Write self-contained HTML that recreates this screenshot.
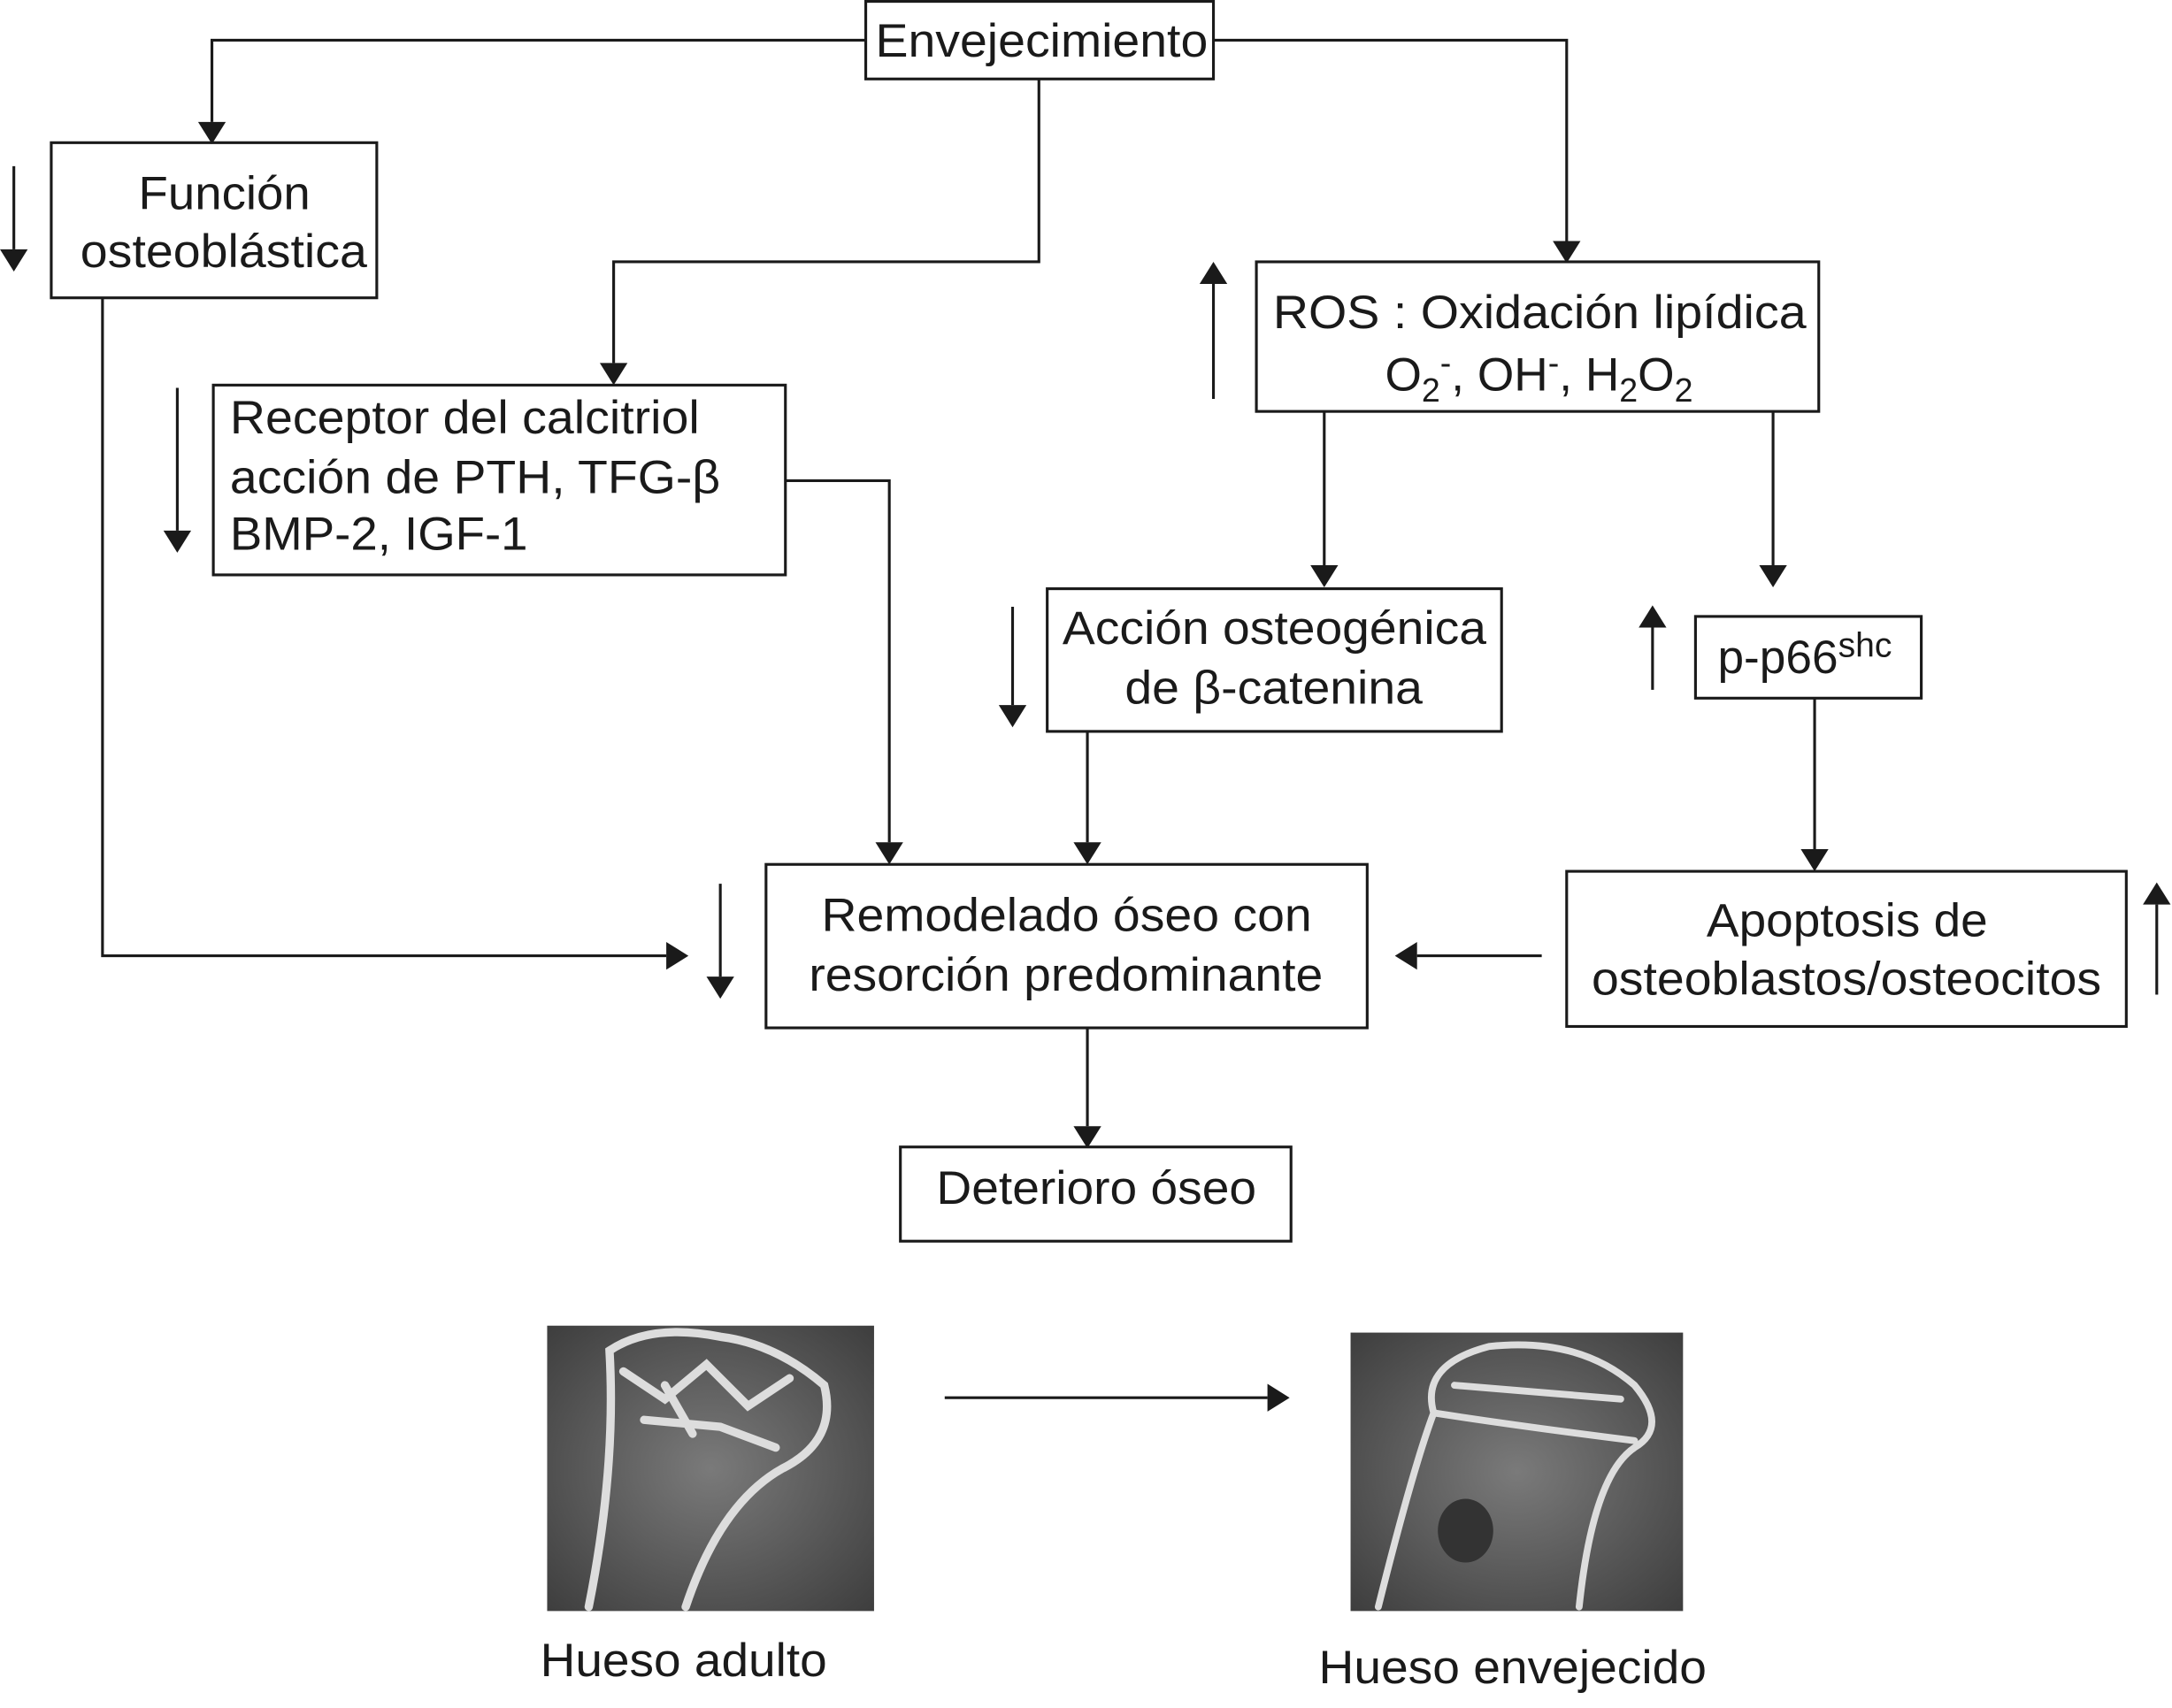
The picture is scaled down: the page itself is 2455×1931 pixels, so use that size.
<!DOCTYPE html>
<html><head><meta charset="utf-8"><style>
html,body{margin:0;padding:0;background:#fff;}
svg{display:block;}
text{font-family:"Liberation Sans",sans-serif;font-size:34px;fill:#1a1a1a;}
</style></head><body>
<svg width="2455" height="1931" viewBox="0 0 1568 1233" preserveAspectRatio="none" xmlns="http://www.w3.org/2000/svg">
<defs>
<radialGradient id="g1" cx="50%" cy="50%" r="70%"><stop offset="0" stop-color="#7a7a7a"/><stop offset="1" stop-color="#3e3e3e"/></radialGradient>
</defs>
<g fill="none" stroke="#1a1a1a" stroke-width="2">
<rect x="625" y="1" width="251" height="56"/>
<rect x="37" y="103" width="235" height="112"/>
<rect x="154" y="278" width="413" height="137"/>
<rect x="907" y="189" width="406" height="108"/>
<rect x="756" y="425" width="328" height="103"/>
<rect x="1224" y="445" width="163" height="59"/>
<rect x="553" y="624" width="434" height="118"/>
<rect x="1131" y="629" width="404" height="112"/>
<rect x="650" y="828" width="282" height="68"/>
<polyline points="625,29 153,29 153,88"/>
<polyline points="876,29 1131,29 1131,174"/>
<polyline points="750,57 750,189 443,189 443,262"/>
<polyline points="567,347 642,347 642,608"/>
<polyline points="74,215 74,690 481,690"/>
<line x1="956" y1="297" x2="956" y2="408"/>
<line x1="1280" y1="297" x2="1280" y2="408"/>
<line x1="785" y1="528" x2="785" y2="608"/>
<line x1="1310" y1="504" x2="1310" y2="613"/>
<line x1="1113" y1="690" x2="1023" y2="690"/>
<line x1="785" y1="742" x2="785" y2="813"/>
<line x1="682" y1="1009" x2="915" y2="1009"/>
<line x1="10" y1="120" x2="10" y2="180"/>
<line x1="128" y1="280" x2="128" y2="383"/>
<line x1="876" y1="288" x2="876" y2="205"/>
<line x1="731" y1="438" x2="731" y2="509"/>
<line x1="1193" y1="498" x2="1193" y2="453"/>
<line x1="520" y1="638" x2="520" y2="705"/>
<line x1="1557" y1="718" x2="1557" y2="653"/>
</g>
<g fill="#1a1a1a">
<polygon points="143,88 163,88 153,104"/>
<polygon points="1121,174 1141,174 1131,190"/>
<polygon points="433,262 453,262 443,278"/>
<polygon points="632,608 652,608 642,624"/>
<polygon points="481,680 481,700 497,690"/>
<polygon points="946,408 966,408 956,424"/>
<polygon points="1270,408 1290,408 1280,424"/>
<polygon points="775,608 795,608 785,624"/>
<polygon points="1300,613 1320,613 1310,629"/>
<polygon points="1023,680 1023,700 1007,690"/>
<polygon points="775,813 795,813 785,829"/>
<polygon points="915,999 915,1019 931,1009"/>
<polygon points="0,180 20,180 10,196"/>
<polygon points="118,383 138,383 128,399"/>
<polygon points="866,205 886,205 876,189"/>
<polygon points="721,509 741,509 731,525"/>
<polygon points="1183,453 1203,453 1193,437"/>
<polygon points="510,705 530,705 520,721"/>
<polygon points="1547,653 1567,653 1557,637"/>
</g>
<g>
<text x="632" y="41" textLength="240" lengthAdjust="spacingAndGlyphs">Envejecimiento</text>
<text x="100" y="151" textLength="124" lengthAdjust="spacingAndGlyphs">Función</text>
<text x="58" y="193" textLength="207" lengthAdjust="spacingAndGlyphs">osteoblástica</text>
<text x="919" y="237" textLength="385" lengthAdjust="spacingAndGlyphs">ROS : Oxidación lipídica</text>
<text x="767" y="465" textLength="306" lengthAdjust="spacingAndGlyphs">Acción osteogénica</text>
<text x="812" y="508" textLength="215" lengthAdjust="spacingAndGlyphs">de β-catenina</text>
<text x="593" y="672" textLength="354" lengthAdjust="spacingAndGlyphs">Remodelado óseo con</text>
<text x="584" y="715" textLength="371" lengthAdjust="spacingAndGlyphs">resorción predominante</text>
<text x="1232" y="676" textLength="203" lengthAdjust="spacingAndGlyphs">Apoptosis de</text>
<text x="1149" y="718" textLength="368" lengthAdjust="spacingAndGlyphs">osteoblastos/osteocitos</text>
<text x="676" y="869" textLength="231" lengthAdjust="spacingAndGlyphs">Deterioro óseo</text>
<text x="390" y="1210" textLength="207" lengthAdjust="spacingAndGlyphs">Hueso adulto</text>
<text x="952" y="1215" textLength="280" lengthAdjust="spacingAndGlyphs">Hueso envejecido</text>
<text x="166" y="313" textLength="339" lengthAdjust="spacingAndGlyphs">Receptor del calcitriol</text>
<text x="166" y="356" textLength="354" lengthAdjust="spacingAndGlyphs">acción de PTH, TFG-β</text>
<text x="166" y="397" textLength="215" lengthAdjust="spacingAndGlyphs">BMP-2, IGF-1</text>
</g>
<text x="1111" y="282" text-anchor="middle" font-size="37">O<tspan font-size="24" dy="8">2</tspan><tspan dy="-20" font-size="24">-</tspan><tspan dy="12">, OH</tspan><tspan dy="-12" font-size="24">-</tspan><tspan dy="12">, H</tspan><tspan font-size="24" dy="8">2</tspan><tspan dy="-8">O</tspan><tspan font-size="24" dy="8">2</tspan></text>
<text x="1240" y="486" font-size="37">p-p66<tspan font-size="25" dy="-12">shc</tspan></text>
<rect x="395" y="957" width="236" height="206" fill="url(#g1)"/>
<g fill="none" stroke="#ddd" stroke-width="6" stroke-linecap="round">
<path d="M425,1160 Q445,1060 440,975 Q470,955 520,965 Q560,970 595,1000 Q605,1040 565,1060 Q520,1085 495,1160"/>
<path d="M450,990 L480,1010 L510,985 L540,1015 L570,995 M465,1025 L520,1030 L560,1045 M480,1000 L500,1035"/>
</g>
<rect x="975" y="962" width="240" height="201" fill="url(#g1)"/>
<g fill="none" stroke="#ddd" stroke-width="5" stroke-linecap="round">
<path d="M995,1160 Q1020,1060 1035,1020 Q1025,985 1075,972 Q1140,965 1180,1000 Q1205,1030 1180,1045 Q1150,1065 1140,1160"/>
<path d="M1035,1020 Q1100,1030 1180,1040 M1050,1000 L1170,1010"/>
</g>
<ellipse cx="1058" cy="1105" rx="20" ry="23" fill="#333"/>
</svg>
</body></html>
